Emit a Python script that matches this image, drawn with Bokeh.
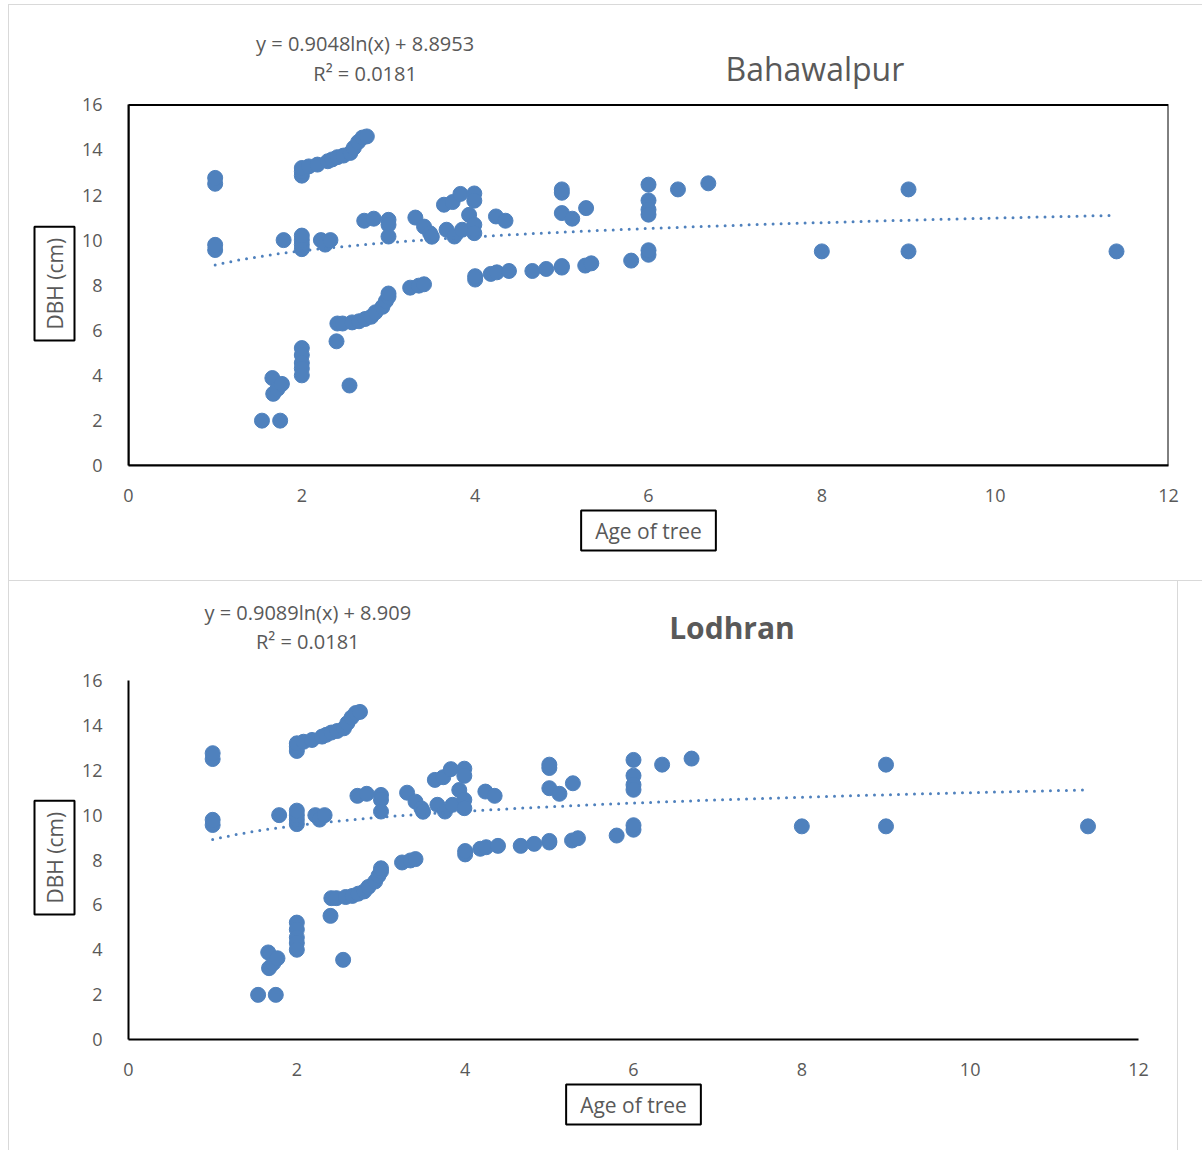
import numpy as np
from bokeh.plotting import figure
from bokeh.models import Range1d, Label, Title, ColumnDataSource, BoxAnnotation
from bokeh.layouts import column
from bokeh.embed import file_html
from bokeh.resources import INLINE

# ---- data ----
age = [1, 1, 1, 1,
       2, 2, 2, 2.08, 2.18, 2.3, 2.35, 2.41, 2.48, 2.56, 2.6, 2.65, 2.7, 2.75,
       1.79, 2, 2, 2, 2, 2.22, 2.27, 2.33,
       2.72, 2.83, 3, 3, 3, 3.31, 3.41, 3.48, 3.5, 3.64, 3.74, 3.83, 3.99, 3.99, 3.93,
       3.67, 3.76, 3.85, 3.99, 3.99, 4.24, 4.35, 5, 5, 5, 5.12, 5.28, 6, 6, 6, 6,
       6.34, 6.69, 9,
       1.54, 1.75, 1.66, 1.67, 1.72, 1.77, 2, 2, 2, 2, 2, 2.4, 2.55,
       2.41, 2.47, 2.58, 2.66, 2.73, 2.8, 2.85, 2.93, 2.97, 3, 3,
       3.25, 3.35, 3.41, 4, 4, 4.18, 4.25, 4.39, 4.66, 4.82, 5, 5, 5.27, 5.34, 5.8,
       6, 6, 8, 9, 11.4]
dbh = [12.5, 12.76, 9.56, 9.79,
       12.86, 13.05, 13.2, 13.27, 13.35, 13.5, 13.58, 13.68, 13.75, 13.87, 14.1, 14.35, 14.55, 14.6,
       10.0, 9.6, 9.8, 10.0, 10.2, 10.0, 9.8, 10.0,
       10.86, 10.95, 10.9, 10.68, 10.16, 11.0, 10.6, 10.3, 10.15, 11.57, 11.69, 12.05, 12.07, 11.75, 11.12,
       10.46, 10.16, 10.46, 10.68, 10.31, 11.05, 10.86, 12.1, 12.25, 11.2, 10.95, 11.42, 12.46, 11.76, 11.35, 11.13,
       12.25, 12.52, 12.25,
       1.99, 1.99, 3.88, 3.18, 3.4, 3.62, 5.21, 4.9, 4.55, 4.3, 4.0, 5.51, 3.55,
       6.3, 6.3, 6.35, 6.4, 6.5, 6.6, 6.8, 7.04, 7.3, 7.49, 7.63,
       7.89, 7.98, 8.04, 8.25, 8.4, 8.5, 8.57, 8.63, 8.63, 8.72, 8.78, 8.85, 8.87, 8.97, 9.09,
       9.35, 9.55, 9.5, 9.5, 9.5]

x_ticks = [0, 2, 4, 6, 8, 10, 12]
y_ticks = [0, 2, 4, 6, 8, 10, 12, 14, 16]
x_max = 12
y_max = 16

titles = ["Bahawalpur", "Lodhran"]
fit_a = [0.9048, 0.9089]
fit_b = [8.8953, 8.909]
eq_text = ["y = 0.9048ln(x) + 8.8953", "y = 0.9089ln(x) + 8.909"]
r2_text = ["R\u00b2 = 0.0181", "R\u00b2 = 0.0181"]
x_title = "Age of tree"
y_title = "DBH (cm)"

BLUE = "#4F81BD"
GREY = "#595959"
FONT = "Open Sans"

PLOT_H = 359          # pixel height of the 0..16 region
EXTRA_H = 84          # room above the plot area for titles / equations


def make_panel(i, frame_w, right, bottom, boxed, title_x, title_dy, title_bold, title_size,
               eq_x, eq_dy, r2_dy):
    frame_h = PLOT_H + EXTRA_H
    top_val = y_max * frame_h / PLOT_H
    p = figure(frame_width=frame_w, frame_height=frame_h, output_backend="svg",
               toolbar_location=None, x_range=Range1d(0, x_max), y_range=Range1d(0, top_val),
               min_border_left=119, min_border_right=right,
               min_border_top=15, min_border_bottom=bottom)
    p.grid.visible = False
    p.outline_line_color = None
    p.background_fill_color = "white"
    p.border_fill_color = "white"
    for ax, ticks in ((p.xaxis, x_ticks), (p.yaxis, y_ticks)):
        ax.ticker = ticks
        ax.major_label_text_font = FONT
        ax.major_label_text_font_size = "18px"
        ax.major_label_text_color = GREY
        ax.major_tick_line_color = None
        ax.minor_tick_line_color = None
        ax.axis_line_color = "black"
        ax.axis_line_width = 2
    p.yaxis.bounds = (0, y_max)
    p.xaxis.major_label_standoff = 17
    p.yaxis.major_label_standoff = 20
    if boxed:
        p.add_layout(BoxAnnotation(left=0, right=x_max, bottom=0, top=y_max, fill_alpha=0,
                                   line_color="black", line_width=2, line_alpha=1))

    src = ColumnDataSource(dict(x=age, y=dbh))
    p.scatter("x", "y", source=src, size=15, fill_color=BLUE, line_color=BLUE)

    tx = np.linspace(min(age), max(age), 120)
    ty = fit_a[i] * np.log(tx) + fit_b[i]
    p.line(tx, ty, line_color=BLUE, line_width=3, line_dash="0 8", line_cap="round")

    p.add_layout(Label(x=title_x, y=y_max, y_offset=title_dy, text=titles[i], text_align="center",
                       text_baseline="middle", text_font=FONT, text_font_size=title_size,
                       text_color=GREY, text_font_style="bold" if title_bold else "normal"))
    p.add_layout(Label(x=eq_x, y=y_max, y_offset=eq_dy, text=eq_text[i], text_align="center",
                       text_baseline="middle", text_font=FONT, text_font_size="20px",
                       text_color=GREY))
    p.add_layout(Label(x=eq_x, y=y_max, y_offset=r2_dy, text=r2_text[i], text_align="center",
                       text_baseline="middle", text_font=FONT, text_font_size="20px",
                       text_color=GREY))

    p.add_layout(Title(text=x_title, align="center", text_font=FONT, text_font_size="21px",
                       text_font_style="normal", text_color=GREY, border_line_color="black",
                       border_line_width=2, background_fill_color="white", padding=(14, 6),
                       standoff=8), "below")
    p.add_layout(Title(text=y_title, align="left", offset=125, text_font=FONT,
                       text_font_size="21px", text_font_style="normal", text_color=GREY,
                       border_line_color="black", border_line_width=2,
                       background_fill_color="white", padding=(11, 6), standoff=8), "left")
    return p


p1 = make_panel(0, 1039, 35, 117, True, 7.92, 36, False, "32px", 2.73, 61, 31)
p1.styles = {"margin-left": "8px", "margin-top": "4px",
             "border-left": "1px solid #d9d9d9", "border-top": "1px solid #d9d9d9",
             "border-bottom": "1px solid #d9d9d9"}
p2 = make_panel(1, 1008, 41, 111, False, 7.17, 53, True, "30px", 2.13, 68, 39)
p2.styles = {"margin-left": "8px", "max-width": "1168px", "box-sizing": "content-box",
             "border-left": "1px solid #d9d9d9", "border-right": "1px solid #d9d9d9"}
p2.align = "start"

layout = column(p1, p2, spacing=0)
open("out.html", "w").write(file_html(layout, INLINE))
